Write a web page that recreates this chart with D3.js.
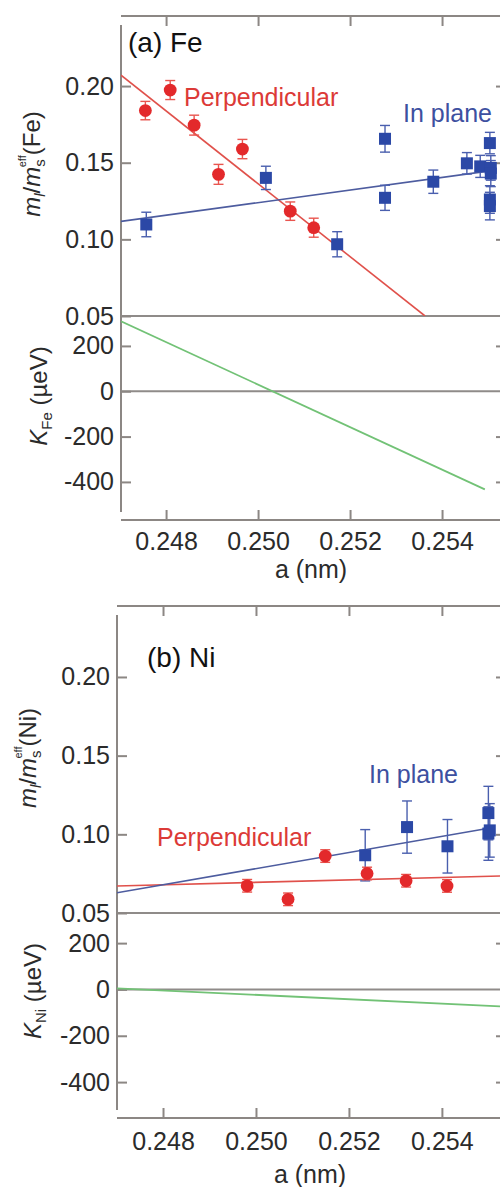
<!DOCTYPE html>
<html>
<head>
<meta charset="utf-8">
<script src="https://cdn.jsdelivr.net/npm/d3@7"></script>
<style>
  html, body { margin: 0; padding: 0; background: #fff; }
  svg { display: block; font-family: "Liberation Sans", Arial, Helvetica, sans-serif; }
</style>
</head>
<body>
<svg id="chart" width="500" height="1187"></svg>
<script>
// ---- shared ticks ----
const aTicks = [0.248, 0.250, 0.252, 0.254];
const mTicks = [0.05, 0.10, 0.15, 0.20];
const kTicks = [-400, -200, 0, 200];

// ---- (a) Fe ----
const feAExt = [0.24702, 0.25526];
const feMExt = [0.05, 0.2457];
const feKExt = [-568, 332];

const fePerpA = [0.24755, 0.24809, 0.24861, 0.24914, 0.24966, 0.25070, 0.25121];
const fePerpM = [0.1840, 0.1974, 0.1745, 0.1424, 0.1589, 0.1184, 0.1076];
const fePerpErr = [0.0060, 0.0062, 0.0065, 0.0065, 0.0063, 0.0060, 0.0062];

const feInA = [0.24757, 0.25017, 0.25172, 0.25276, 0.25276, 0.25381, 0.25454,
  0.25483, 0.25504, 0.25506, 0.25506, 0.25504, 0.25504];
const feInM = [0.1097, 0.1401, 0.0968, 0.1656, 0.1271, 0.1376, 0.1496,
  0.1476, 0.1628, 0.1466, 0.1429, 0.1260, 0.1217];
const feInErr = [0.0080, 0.0076, 0.0082, 0.0087, 0.0082, 0.0076, 0.0070,
  0.0072, 0.0070, 0.0080, 0.0085, 0.0090, 0.0090];

const fePerpFitA = [0.24702, 0.25363];
const fePerpFitM = [0.2071, 0.0500];
const feInFitA = [0.24702, 0.25500];
const feInFitM = [0.1117, 0.1445];
const feKA = [0.24702, 0.25493];
const feKV = [309, -433];

// ---- (b) Ni ----
const niAExt = [0.24701, 0.25525];
const niMExt = [0.05, 0.2451];
const niKExt = [-555, 330];

const niPerpA = [0.24981, 0.25069, 0.25149, 0.25239, 0.25323, 0.25411];
const niPerpM = [0.0673, 0.0587, 0.0862, 0.0751, 0.0705, 0.0672];
const niPerpErr = [0.004, 0.004, 0.004, 0.004, 0.004, 0.004];

const niInA = [0.25235, 0.25325, 0.25412, 0.25500, 0.25500, 0.25503];
const niInM = [0.0867, 0.1046, 0.0924, 0.1135, 0.1005, 0.1025];
const niInErr = [0.0163, 0.0166, 0.0170, 0.0170, 0.0170, 0.0170];

const niPerpFitA = [0.24701, 0.25525];
const niPerpFitM = [0.0672, 0.0735];
const niInFitA = [0.24701, 0.25510];
const niInFitM = [0.0629, 0.1043];
const niKA = [0.24701, 0.25525];
const niKV = [5, -73];

const zip = (xs, ys, es) => xs.map((v, i) => ({ a: v, y: ys[i], e: es ? es[i] : 0 }));

const AXIS = "#8c8784";
const RED = "#e3292b";
const RED_LINE = "#e0514b";
const BLUE = "#2b48a6";
const BLUE_LINE = "#4d5c9f";
const GREEN = "#72c276";
const TXT = "#2b2b2b";

const panels = [
  {
    id: "fe", tag: "(a) Fe", el: "Fe",
    left: 121, right: 500, top: 16, axisTop: 25, split: 316, bottom: 520, axisBottom: 512,
    aExt: feAExt, mExt: feMExt, kExt: feKExt,
    perp: zip(fePerpA, fePerpM, fePerpErr), inPlane: zip(feInA, feInM, feInErr),
    perpFit: zip(fePerpFitA, fePerpFitM), inFit: zip(feInFitA, feInFitM), kFit: zip(feKA, feKV),
    tagPos: [128, 52], perpPos: [184, 106], inPos: [403, 122],
    mTitle: [40, 164], kTitle: [47, 396], xTitle: [311, 578], tickPad: 12
  },
  {
    id: "ni", tag: "(b) Ni", el: "Ni",
    left: 117, right: 500, top: 606, axisTop: 615, split: 913, bottom: 1118, axisBottom: 1110,
    aExt: niAExt, mExt: niMExt, kExt: niKExt,
    perp: zip(niPerpA, niPerpM, niPerpErr), inPlane: zip(niInA, niInM, niInErr),
    perpFit: zip(niPerpFitA, niPerpFitM), inFit: zip(niInFitA, niInFitM), kFit: zip(niKA, niKV),
    tagPos: [147, 667], perpPos: [157, 846], inPos: [369, 783],
    mTitle: [36, 758], kTitle: [41, 991], xTitle: [310, 1183], tickPad: 14
  }
];

const svg = d3.select("#chart");
const defs = svg.append("defs");

function styleAxis(sel) {
  sel.select(".domain").remove();
  sel.selectAll(".tick line").attr("stroke", AXIS).attr("stroke-width", 2);
  sel.selectAll(".tick text")
    .attr("fill", TXT)
    .attr("font-size", 25)
    .attr("font-family", "'Liberation Sans', Arial, sans-serif");
}

function drawPanel(p) {
  const g = svg.append("g").attr("class", `panel ${p.id}`);

  const x = d3.scaleLinear().domain(p.aExt).range([p.left, p.right]);
  const yM = d3.scaleLinear().domain(p.mExt).range([p.split, p.top]);
  const yK = d3.scaleLinear().domain(p.kExt).range([p.bottom, p.split]);

  defs.append("clipPath").attr("id", `clip-m-${p.id}`)
    .append("rect").attr("x", p.left).attr("y", p.top)
    .attr("width", p.right - p.left).attr("height", p.split - p.top);
  defs.append("clipPath").attr("id", `clip-k-${p.id}`)
    .append("rect").attr("x", p.left).attr("y", p.split)
    .attr("width", p.right - p.left).attr("height", p.bottom - p.split);

  // frame lines
  const frame = g.append("g").attr("stroke", AXIS).attr("stroke-width", 2);
  frame.append("line").attr("x1", p.left).attr("x2", p.right).attr("y1", p.top).attr("y2", p.top);
  frame.append("line").attr("x1", p.left).attr("x2", p.right).attr("y1", p.bottom).attr("y2", p.bottom);
  frame.append("line").attr("x1", p.left).attr("x2", p.left).attr("y1", p.axisTop).attr("y2", p.axisBottom);
  frame.append("line").attr("x1", p.left).attr("x2", p.right)
    .attr("y1", yM(0.05)).attr("y2", yM(0.05)).attr("stroke", "#8f8b89");
  frame.append("line").attr("x1", p.left).attr("x2", p.right)
    .attr("y1", yK(0)).attr("y2", yK(0)).attr("stroke", "#8f8b89");

  // axes
  g.append("g").attr("transform", `translate(0,${p.top})`)
    .call(d3.axisTop(x).tickValues(aTicks).tickSizeInner(-10).tickSizeOuter(0).tickFormat(""))
    .call(styleAxis);
  g.append("g").attr("transform", `translate(0,${p.bottom})`)
    .call(d3.axisBottom(x).tickValues(aTicks).tickSizeInner(-10).tickSizeOuter(0)
      .tickPadding(p.tickPad).tickFormat(d3.format(".3f")))
    .call(styleAxis);
  g.append("g").attr("transform", `translate(${p.left},0)`)
    .call(d3.axisLeft(yM).tickValues(mTicks).tickSizeInner(-10).tickSizeOuter(0)
      .tickPadding(7).tickFormat(d3.format(".2f")))
    .call(styleAxis);
  g.append("g").attr("transform", `translate(${p.left},0)`)
    .call(d3.axisLeft(yK).tickValues(kTicks).tickSizeInner(-10).tickSizeOuter(0)
      .tickPadding(7).tickFormat((d) => String(d)))
    .call(styleAxis);
  g.append("g").attr("transform", `translate(${p.right},0)`)
    .call(d3.axisRight(yM).tickValues(mTicks.slice(1)).tickSizeInner(-4).tickSizeOuter(0).tickFormat(""))
    .call(styleAxis);
  g.append("g").attr("transform", `translate(${p.right},0)`)
    .call(d3.axisRight(yK).tickValues([-400, -200, 200]).tickSizeInner(-4).tickSizeOuter(0).tickFormat(""))
    .call(styleAxis);

  // fits
  const lineM = d3.line().x((d) => x(d.a)).y((d) => yM(d.y));
  const lineK = d3.line().x((d) => x(d.a)).y((d) => yK(d.y));

  const mLayer = g.append("g").attr("clip-path", `url(#clip-m-${p.id})`);
  mLayer.append("path").datum(p.perpFit).attr("d", lineM)
    .attr("fill", "none").attr("stroke", RED_LINE).attr("stroke-width", 1.6);
  mLayer.append("path").datum(p.inFit).attr("d", lineM)
    .attr("fill", "none").attr("stroke", BLUE_LINE).attr("stroke-width", 1.6);

  g.append("g").attr("clip-path", `url(#clip-k-${p.id})`)
    .append("path").datum(p.kFit).attr("d", lineK)
    .attr("fill", "none").attr("stroke", GREEN).attr("stroke-width", 1.8);

  // error bars
  function errBars(layer, data, color, width) {
    const eg = layer.append("g").attr("stroke", color).attr("stroke-width", width);
    eg.selectAll("line.v").data(data).join("line").attr("class", "v")
      .attr("x1", (d) => x(d.a)).attr("x2", (d) => x(d.a))
      .attr("y1", (d) => yM(d.y - d.e)).attr("y2", (d) => yM(d.y + d.e));
    eg.selectAll("line.t").data(data).join("line").attr("class", "t")
      .attr("x1", (d) => x(d.a) - 5).attr("x2", (d) => x(d.a) + 5)
      .attr("y1", (d) => yM(d.y + d.e)).attr("y2", (d) => yM(d.y + d.e));
    eg.selectAll("line.b").data(data).join("line").attr("class", "b")
      .attr("x1", (d) => x(d.a) - 5).attr("x2", (d) => x(d.a) + 5)
      .attr("y1", (d) => yM(d.y - d.e)).attr("y2", (d) => yM(d.y - d.e));
  }

  errBars(mLayer, p.inPlane, "#4a5fae", 1.4);
  errBars(mLayer, p.perp, "#e9554f", 1.4);

  mLayer.append("g").selectAll("rect").data(p.inPlane).join("rect")
    .attr("x", (d) => x(d.a) - 6).attr("y", (d) => yM(d.y) - 6)
    .attr("width", 12).attr("height", 12).attr("fill", BLUE);

  mLayer.append("g").selectAll("circle").data(p.perp).join("circle")
    .attr("cx", (d) => x(d.a)).attr("cy", (d) => yM(d.y))
    .attr("r", 6.4).attr("fill", RED);

  // labels
  g.append("text").attr("x", p.tagPos[0]).attr("y", p.tagPos[1])
    .attr("font-size", 28).attr("fill", "#111").text(p.tag);
  g.append("text").attr("x", p.perpPos[0]).attr("y", p.perpPos[1])
    .attr("font-size", 25).attr("fill", "#dc3a37").text("Perpendicular");
  g.append("text").attr("x", p.inPos[0]).attr("y", p.inPos[1])
    .attr("font-size", 25).attr("fill", "#3d50a0").text("In plane");

  // y titles
  const mt = g.append("text")
    .attr("transform", `translate(${p.mTitle[0]},${p.mTitle[1]}) rotate(-90)`)
    .attr("text-anchor", "middle").attr("font-size", 24).attr("fill", TXT);
  mt.append("tspan").attr("font-style", "italic").text("m");
  mt.append("tspan").attr("font-style", "italic").attr("font-size", 15).attr("dy", 5).text("l");
  mt.append("tspan").attr("dy", -5).text("/");
  mt.append("tspan").attr("font-style", "italic").text("m");
  mt.append("tspan").attr("font-size", 15).attr("dy", 5).text("s");
  mt.append("tspan").attr("font-size", 11).attr("dx", -8).attr("dy", -19).text("eff");
  mt.append("tspan").attr("dy", 14).text(`(${p.el})`);

  const kt = g.append("text")
    .attr("transform", `translate(${p.kTitle[0]},${p.kTitle[1]}) rotate(-90)`)
    .attr("text-anchor", "middle").attr("font-size", 24).attr("fill", TXT);
  kt.append("tspan").attr("font-style", "italic").text("K");
  kt.append("tspan").attr("font-size", 15).attr("dy", 5).text(p.el);
  kt.append("tspan").attr("dy", -5).text(" (µeV)");

  g.append("text").attr("x", p.xTitle[0]).attr("y", p.xTitle[1])
    .attr("text-anchor", "middle").attr("font-size", 25).attr("fill", TXT).text("a (nm)");
}

panels.forEach(drawPanel);
</script>
</body>
</html>
